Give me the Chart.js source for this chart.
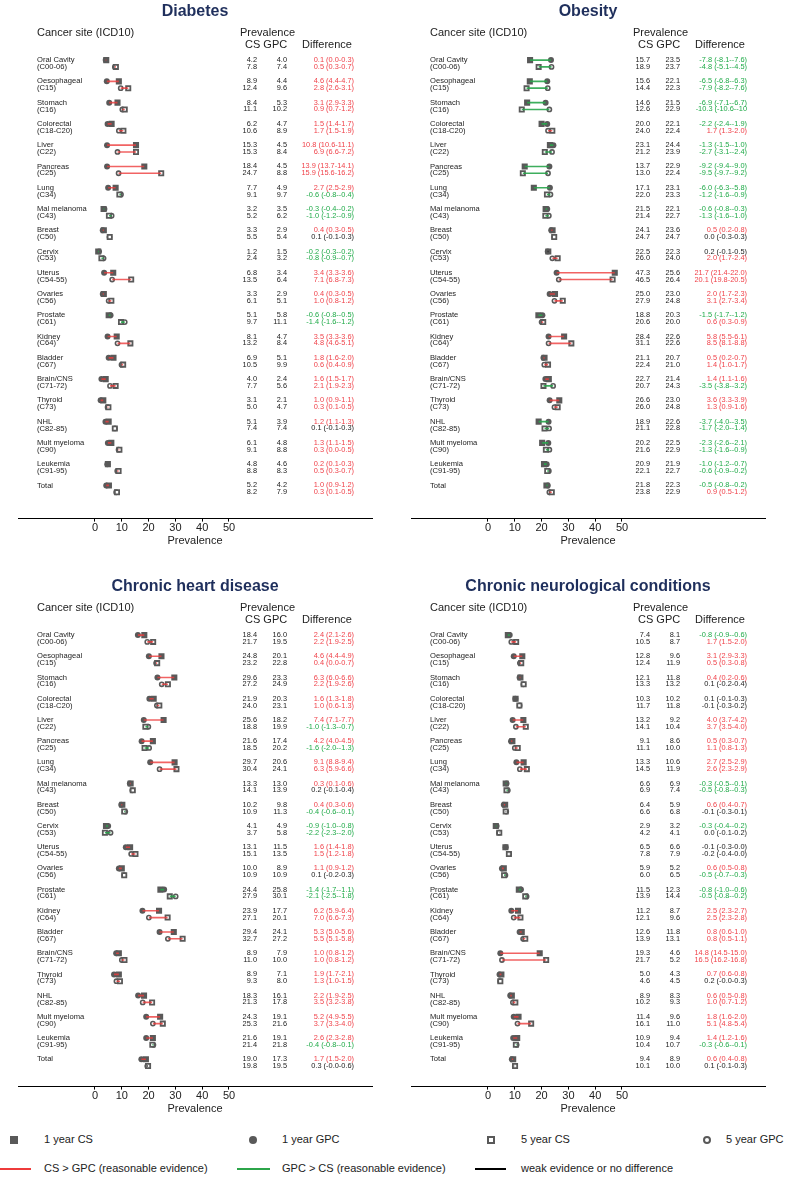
<!DOCTYPE html>
<html>
<head>
<meta charset="utf-8">
<script src="https://cdn.jsdelivr.net/npm/chart.js@4.4.1/dist/chart.umd.min.js"></script>
<style>
body { margin: 0; background: #fff; font-family: "Liberation Sans", Arial, sans-serif; }
#page { position: relative; width: 785px; height: 1177px; overflow: hidden; }
#page canvas { position: absolute; }
.lg { position: absolute; font-size: 11px; color: #222; line-height: 13px; white-space: nowrap; }
.mk { position: absolute; box-sizing: border-box; }
.ln { position: absolute; height: 1.6px; }
</style>
</head>
<body>
<div id="page">
  <canvas id="diab" width="393" height="575" style="left:0;top:0"></canvas>
  <canvas id="obes" width="392" height="575" style="left:393px;top:0"></canvas>
  <canvas id="chd" width="393" height="545" style="left:0;top:575px"></canvas>
  <canvas id="neuro" width="392" height="545" style="left:393px;top:575px"></canvas>

  <div class="mk" style="left:10px;top:1136px;width:8px;height:8px;background:#595959"></div>
  <div class="lg" style="left:44px;top:1133px">1 year CS</div>
  <div class="mk" style="left:249px;top:1136px;width:8px;height:8px;border-radius:50%;background:#595959"></div>
  <div class="lg" style="left:282px;top:1133px">1 year GPC</div>
  <div class="mk" style="left:487px;top:1136px;width:8px;height:8px;border:2.5px solid #595959;background:#fff"></div>
  <div class="lg" style="left:521px;top:1133px">5 year CS</div>
  <div class="mk" style="left:703px;top:1136px;width:8px;height:8px;border-radius:50%;border:2.5px solid #595959;background:#fff"></div>
  <div class="lg" style="left:726px;top:1133px">5 year GPC</div>

  <div class="ln" style="left:0;top:1168px;width:31px;background:#ee3b3b"></div>
  <div class="lg" style="left:44px;top:1162px">CS &gt; GPC (reasonable evidence)</div>
  <div class="ln" style="left:237px;top:1168px;width:33px;background:#2ca54a"></div>
  <div class="lg" style="left:282px;top:1162px">GPC &gt; CS (reasonable evidence)</div>
  <div class="ln" style="left:475px;top:1168px;width:31px;background:#000"></div>
  <div class="lg" style="left:521px;top:1162px">weak evidence or no difference</div>
</div>
<script>
// cancer sites, one row each
const sites = ['Oral Cavity','Oesophageal','Stomach','Colorectal','Liver','Pancreas','Lung','Mal melanoma','Breast','Cervix','Uterus','Ovaries','Prostate','Kidney','Bladder','Brain/CNS','Thyroid','NHL','Mult myeloma','Leukemia','Total'];
const codes = ['(C00-06)','(C15)','(C16)','(C18-C20)','(C22)','(C25)','(C34)','(C43)','(C50)','(C53)','(C54-55)','(C56)','(C61)','(C64)','(C67)','(C71-72)','(C73)','(C82-85)','(C90)','(C91-95)',''];
const xTicks = [0, 10, 20, 30, 40, 50];

// Diabetes
const diabCS1  = [4.2,8.9,8.4,6.2,15.3,18.4,7.7,3.2,3.3,1.2,6.8,3.3,5.1,8.1,6.9,4.0,3.1,5.1,6.1,4.8,5.2];
const diabGPC1 = [4.0,4.4,5.3,4.7,4.5,4.5,4.9,3.5,2.9,1.5,3.4,2.9,5.8,4.7,5.1,2.4,2.1,3.9,4.8,4.6,4.2];
const diabCS5  = [7.8,12.4,11.1,10.6,15.3,24.7,9.1,5.2,5.5,2.4,13.5,6.1,9.7,13.2,10.5,7.7,5.0,7.4,9.1,8.8,8.2];
const diabGPC5 = [7.4,9.6,10.2,8.9,8.4,8.8,9.7,6.2,5.4,3.2,6.4,5.1,11.1,8.4,9.9,5.6,4.7,7.4,8.8,8.3,7.9];
const diabDiff1 = ['0.1 (0.0-0.3)','4.6 (4.4-4.7)','3.1 (2.9-3.3)','1.5 (1.4-1.7)','10.8 (10.6-11.1)','13.9 (13.7-14.1)','2.7 (2.5-2.9)','-0.3 (-0.4--0.2)','0.4 (0.3-0.5)','-0.2 (-0.3--0.2)','3.4 (3.3-3.6)','0.4 (0.3-0.5)','-0.6 (-0.8--0.5)','3.5 (3.3-3.6)','1.8 (1.6-2.0)','1.6 (1.5-1.7)','1.0 (0.9-1.1)','1.2 (1.1-1.3)','1.3 (1.1-1.5)','0.2 (0.1-0.3)','1.0 (0.9-1.2)'];
const diabDiff5 = ['0.5 (0.3-0.7)','2.8 (2.6-3.1)','0.9 (0.7-1.2)','1.7 (1.5-1.9)','6.9 (6.6-7.2)','15.9 (15.6-16.2)','-0.6 (-0.8--0.4)','-1.0 (-1.2--0.9)','0.1 (-0.1-0.3)','-0.8 (-0.9--0.7)','7.1 (6.8-7.3)','1.0 (0.8-1.2)','-1.4 (-1.6--1.2)','4.8 (4.6-5.1)','0.6 (0.4-0.9)','2.1 (1.9-2.3)','0.3 (0.1-0.5)','0.1 (-0.1-0.3)','0.3 (0.0-0.5)','0.5 (0.3-0.7)','0.3 (0.1-0.5)'];
const diabEv1 = ['r','r','r','r','r','r','r','g','r','g','r','r','g','r','r','r','r','r','r','r','r'];
const diabEv5 = ['r','r','r','r','r','r','g','g','k','g','r','r','g','r','r','r','r','k','r','r','r'];

// Obesity
const obesCS1  = [15.7,15.6,14.6,20.0,23.1,13.7,17.1,21.5,24.1,22.5,47.3,25.0,18.8,28.4,21.1,22.7,26.6,18.9,20.2,20.9,21.8];
const obesGPC1 = [23.5,22.1,21.5,22.1,24.4,22.9,23.1,22.1,23.6,22.3,25.6,23.0,20.3,22.6,20.7,21.4,23.0,22.6,22.5,21.9,22.3];
const obesCS5  = [18.9,14.4,12.6,24.0,21.2,13.0,22.0,21.4,24.7,26.0,46.5,27.9,20.6,31.1,22.4,20.7,26.0,21.1,21.6,22.1,23.8];
const obesGPC5 = [23.7,22.3,22.9,22.4,23.9,22.4,23.3,22.7,24.7,24.0,26.4,24.8,20.0,22.6,21.0,24.3,24.8,22.8,22.9,22.7,22.9];
const obesDiff1 = ['-7.8 (-8.1--7.6)','-6.5 (-6.8--6.3)','-6.9 (-7.1--6.7)','-2.2 (-2.4--1.9)','-1.3 (-1.5--1.0)','-9.2 (-9.4--9.0)','-6.0 (-6.3--5.8)','-0.6 (-0.8--0.3)','0.5 (0.2-0.8)','0.2 (-0.1-0.5)','21.7 (21.4-22.0)','2.0 (1.7-2.3)','-1.5 (-1.7--1.2)','5.8 (5.5-6.1)','0.5 (0.2-0.7)','1.4 (1.1-1.6)','3.6 (3.3-3.9)','-3.7 (-4.0--3.5)','-2.3 (-2.6--2.1)','-1.0 (-1.2--0.7)','-0.5 (-0.8--0.2)'];
const obesDiff5 = ['-4.8 (-5.1--4.5)','-7.9 (-8.2--7.6)','-10.3 (-10.6--10','1.7 (1.3-2.0)','-2.7 (-3.1--2.4)','-9.5 (-9.7--9.2)','-1.2 (-1.6--0.9)','-1.3 (-1.6--1.0)','0.0 (-0.3-0.3)','2.0 (1.7-2.4)','20.1 (19.8-20.5)','3.1 (2.7-3.4)','0.6 (0.3-0.9)','8.5 (8.1-8.8)','1.4 (1.0-1.7)','-3.5 (-3.8--3.2)','1.3 (0.9-1.6)','-1.7 (-2.0--1.4)','-1.3 (-1.6--0.9)','-0.6 (-0.9--0.2)','0.9 (0.5-1.2)'];
const obesEv1 = ['g','g','g','g','g','g','g','g','r','k','r','r','g','r','r','r','r','g','g','g','g'];
const obesEv5 = ['g','g','g','r','g','g','g','g','k','r','r','r','r','r','r','g','r','g','g','g','r'];

// Chronic heart disease
const chdCS1  = [18.4,24.8,29.6,21.9,25.6,21.6,29.7,13.3,10.2,4.1,13.1,10.0,24.4,23.9,29.4,8.9,8.9,18.3,24.3,21.6,19.0];
const chdGPC1 = [16.0,20.1,23.3,20.3,18.2,17.4,20.6,13.0,9.8,4.9,11.5,8.9,25.8,17.7,24.1,7.9,7.1,16.1,19.1,19.1,17.3];
const chdCS5  = [21.7,23.2,27.2,24.0,18.8,18.5,30.4,14.1,10.9,3.7,15.1,10.9,27.9,27.1,32.7,11.0,9.3,21.3,25.3,21.4,19.8];
const chdGPC5 = [19.5,22.8,24.9,23.1,19.9,20.2,24.1,13.9,11.3,5.8,13.5,10.9,30.1,20.1,27.2,10.0,8.0,17.8,21.6,21.8,19.5];
const chdDiff1 = ['2.4 (2.1-2.6)','4.6 (4.4-4.9)','6.3 (6.0-6.6)','1.6 (1.3-1.8)','7.4 (7.1-7.7)','4.2 (4.0-4.5)','9.1 (8.8-9.4)','0.3 (0.1-0.6)','0.4 (0.3-0.6)','-0.9 (-1.0--0.8)','1.6 (1.4-1.8)','1.1 (0.9-1.2)','-1.4 (-1.7--1.1)','6.2 (5.9-6.4)','5.3 (5.0-5.6)','1.0 (0.8-1.2)','1.9 (1.7-2.1)','2.2 (1.9-2.5)','5.2 (4.9-5.5)','2.6 (2.3-2.8)','1.7 (1.5-2.0)'];
const chdDiff5 = ['2.2 (1.9-2.5)','0.4 (0.0-0.7)','2.2 (1.9-2.6)','1.0 (0.6-1.3)','-1.0 (-1.3--0.7)','-1.6 (-2.0--1.3)','6.3 (5.9-6.6)','0.2 (-0.1-0.4)','-0.4 (-0.6--0.1)','-2.2 (-2.3--2.0)','1.5 (1.2-1.8)','0.1 (-0.2-0.3)','-2.1 (-2.5--1.8)','7.0 (6.6-7.3)','5.5 (5.1-5.8)','1.0 (0.8-1.2)','1.3 (1.0-1.5)','3.5 (3.2-3.8)','3.7 (3.3-4.0)','-0.4 (-0.8--0.1)','0.3 (-0.0-0.6)'];
const chdEv1 = ['r','r','r','r','r','r','r','r','r','g','r','r','g','r','r','r','r','r','r','r','r'];
const chdEv5 = ['r','r','r','r','g','g','r','k','g','g','r','k','g','r','r','r','r','r','r','g','k'];

// Chronic neurological conditions
const neuroCS1  = [7.4,12.8,12.1,10.3,13.2,9.1,13.3,6.6,6.4,2.9,6.5,5.9,11.5,11.2,12.6,19.3,5.0,8.9,11.4,10.9,9.4];
const neuroGPC1 = [8.1,9.6,11.8,10.2,9.2,8.6,10.6,6.9,5.9,3.2,6.6,5.2,12.3,8.7,11.8,4.6,4.3,8.3,9.6,9.4,8.9];
const neuroCS5  = [10.5,12.4,13.3,11.7,14.1,11.1,14.5,6.9,6.6,4.2,7.8,6.0,13.9,12.1,13.9,21.7,4.6,10.2,16.1,10.4,10.1];
const neuroGPC5 = [8.7,11.9,13.2,11.8,10.4,10.0,11.9,7.4,6.8,4.1,7.9,6.5,14.4,9.6,13.1,5.2,4.5,9.3,11.0,10.7,10.0];
const neuroDiff1 = ['-0.8 (-0.9--0.6)','3.1 (2.9-3.3)','0.4 (0.2-0.6)','0.1 (-0.1-0.3)','4.0 (3.7-4.2)','0.5 (0.3-0.7)','2.7 (2.5-2.9)','-0.3 (-0.5--0.1)','0.6 (0.4-0.7)','-0.3 (-0.4--0.2)','-0.1 (-0.3-0.0)','0.6 (0.5-0.8)','-0.8 (-1.0--0.6)','2.5 (2.3-2.7)','0.8 (0.6-1.0)','14.8 (14.5-15.0)','0.7 (0.6-0.8)','0.6 (0.5-0.8)','1.8 (1.6-2.0)','1.4 (1.2-1.6)','0.6 (0.4-0.8)'];
const neuroDiff5 = ['1.7 (1.5-2.0)','0.5 (0.3-0.8)','0.1 (-0.2-0.4)','-0.1 (-0.3-0.2)','3.7 (3.5-4.0)','1.1 (0.8-1.3)','2.6 (2.3-2.9)','-0.5 (-0.8--0.3)','-0.1 (-0.3-0.1)','0.0 (-0.1-0.2)','-0.2 (-0.4-0.0)','-0.5 (-0.7--0.3)','-0.5 (-0.8--0.2)','2.5 (2.3-2.8)','0.8 (0.5-1.1)','16.5 (16.2-16.8)','0.2 (-0.0-0.3)','1.0 (0.7-1.2)','5.1 (4.8-5.4)','-0.3 (-0.6--0.1)','0.1 (-0.1-0.3)'];
const neuroEv1 = ['g','r','r','k','r','r','r','g','r','g','k','r','g','r','r','r','r','r','r','r','r'];
const neuroEv5 = ['r','r','k','k','r','r','r','g','k','k','k','g','g','r','r','r','k','r','r','g','k'];

const FONT = '"Liberation Sans", Arial, sans-serif';
const GREY = '#595959';
const LINE_COL = { r: 'rgba(238,60,60,0.8)', g: 'rgba(40,165,75,0.9)', k: '#000' };
const TEXT_COL = { r: '#f0424a', g: '#1faa48', k: '#222' };

// 1 year rows sit a bit above the row centre, 5 year rows a bit below
function rowY(i, yr) { return yr === 1 ? i - 0.16 : i + 0.16; }

function rowText(p) {
  return {
    id: 'rowText',
    afterDatasetsDraw(chart) {
      const ctx = chart.ctx;
      const y = chart.scales.y;
      ctx.save();
      ctx.textBaseline = 'middle';
      ctx.fillStyle = '#222';
      ctx.font = '11px ' + FONT;
      ctx.textAlign = 'left';
      ctx.fillText('Cancer site (ICD10)', 37, y.getPixelForValue(-1.45));
      ctx.fillText('Prevalence', 240, y.getPixelForValue(-1.45));
      ctx.fillText('CS GPC', 245, y.getPixelForValue(-0.88));
      ctx.fillText('Difference', 302, y.getPixelForValue(-0.88));

      sites.forEach((s, i) => {
        const y1 = y.getPixelForValue(rowY(i, 1));
        const y5 = y.getPixelForValue(rowY(i, 5));
        ctx.fillStyle = '#222';
        ctx.textAlign = 'left';
        ctx.font = '7.6px ' + FONT;
        ctx.fillText(s, 37, y1);
        if (codes[i]) ctx.fillText(codes[i], 37, y5);

        ctx.font = '7.4px ' + FONT;
        ctx.textAlign = 'right';
        ctx.fillText(p.cs1[i].toFixed(1), 257, y1);
        ctx.fillText(p.cs5[i].toFixed(1), 257, y5);
        ctx.fillText(p.gpc1[i].toFixed(1), 287, y1);
        ctx.fillText(p.gpc5[i].toFixed(1), 287, y5);
        ctx.fillStyle = TEXT_COL[p.ev1[i]];
        ctx.fillText(p.diff1[i], 354, y1);
        ctx.fillStyle = TEXT_COL[p.ev5[i]];
        ctx.fillText(p.diff5[i], 354, y5);
      });
      ctx.restore();
    }
  };
}

function makePanel(id, p) {
  const canvas = document.getElementById(id);
  const datasets = [];

  // markers first (higher order = drawn earlier)
  datasets.push({ data: p.cs1.map((v, i) => ({ x: v, y: rowY(i, 1) })), pointStyle: 'rect', pointRadius: 4.3, backgroundColor: GREY, borderWidth: 0, order: 2 });
  datasets.push({ data: p.gpc1.map((v, i) => ({ x: v, y: rowY(i, 1) })), pointStyle: 'circle', pointRadius: 3, backgroundColor: GREY, borderWidth: 0, order: 2 });
  datasets.push({ data: p.cs5.map((v, i) => ({ x: v, y: rowY(i, 5) })), pointStyle: 'rect', pointRadius: 3, backgroundColor: '#fff', borderColor: GREY, borderWidth: 1.8, order: 2 });
  datasets.push({ data: p.gpc5.map((v, i) => ({ x: v, y: rowY(i, 5) })), pointStyle: 'circle', pointRadius: 2.1, backgroundColor: '#fff', borderColor: GREY, borderWidth: 1.6, order: 2 });

  // CS - GPC connecting lines on top of the markers
  sites.forEach((s, i) => {
    datasets.push({ showLine: true, pointRadius: 0, borderWidth: 1.6, borderColor: LINE_COL[p.ev1[i]], order: 1,
      data: [{ x: p.cs1[i], y: rowY(i, 1) }, { x: p.gpc1[i], y: rowY(i, 1) }] });
    datasets.push({ showLine: true, pointRadius: 0, borderWidth: 1.6, borderColor: LINE_COL[p.ev5[i]], order: 1,
      data: [{ x: p.cs5[i], y: rowY(i, 5) }, { x: p.gpc5[i], y: rowY(i, 5) }] });
  });

  new Chart(canvas, {
    type: 'scatter',
    data: { datasets },
    options: {
      responsive: false,
      animation: false,
      events: [],
      layout: { padding: { left: 18, right: canvas.width - 372, top: 0, bottom: p.padBottom } },
      plugins: {
        legend: { display: false },
        tooltip: { enabled: false },
        title: { display: true, text: p.title, color: '#1f2f5c', font: { family: FONT, size: 16, weight: 'bold' }, padding: { top: 2, bottom: p.titlePad } }
      },
      scales: {
        x: {
          type: 'linear', min: -28.73, max: 103.36,
          afterBuildTicks: (axis) => { axis.ticks = xTicks.map(v => ({ value: v })); },
          grid: { display: true, drawOnChartArea: false, drawTicks: true, tickLength: 3, color: '#000' },
          border: { display: true, color: '#000', width: 1 },
          ticks: { padding: 0, color: '#222', font: { family: FONT, size: 11 } },
          title: { display: true, text: 'Prevalence', color: '#222', font: { family: FONT, size: 11 }, padding: { top: 0, bottom: 0 } }
        },
        y: { type: 'linear', display: false, reverse: true, min: -1.5, max: p.yMax }
      }
    },
    plugins: [rowText(p)]
  });
}

const topRow = { padBottom: 27, titlePad: 10.4, yMax: 21.4 };
const bottomRow = { padBottom: 4, titlePad: 10.5, yMax: 21.13 };

makePanel('diab', Object.assign({ title: 'Diabetes', cs1: diabCS1, gpc1: diabGPC1, cs5: diabCS5, gpc5: diabGPC5, diff1: diabDiff1, diff5: diabDiff5, ev1: diabEv1, ev5: diabEv5 }, topRow));
makePanel('obes', Object.assign({ title: 'Obesity', cs1: obesCS1, gpc1: obesGPC1, cs5: obesCS5, gpc5: obesGPC5, diff1: obesDiff1, diff5: obesDiff5, ev1: obesEv1, ev5: obesEv5 }, topRow));
makePanel('chd', Object.assign({ title: 'Chronic heart disease', cs1: chdCS1, gpc1: chdGPC1, cs5: chdCS5, gpc5: chdGPC5, diff1: chdDiff1, diff5: chdDiff5, ev1: chdEv1, ev5: chdEv5 }, bottomRow));
makePanel('neuro', Object.assign({ title: 'Chronic neurological conditions', cs1: neuroCS1, gpc1: neuroGPC1, cs5: neuroCS5, gpc5: neuroGPC5, diff1: neuroDiff1, diff5: neuroDiff5, ev1: neuroEv1, ev5: neuroEv5 }, bottomRow));
</script>
</body>
</html>
